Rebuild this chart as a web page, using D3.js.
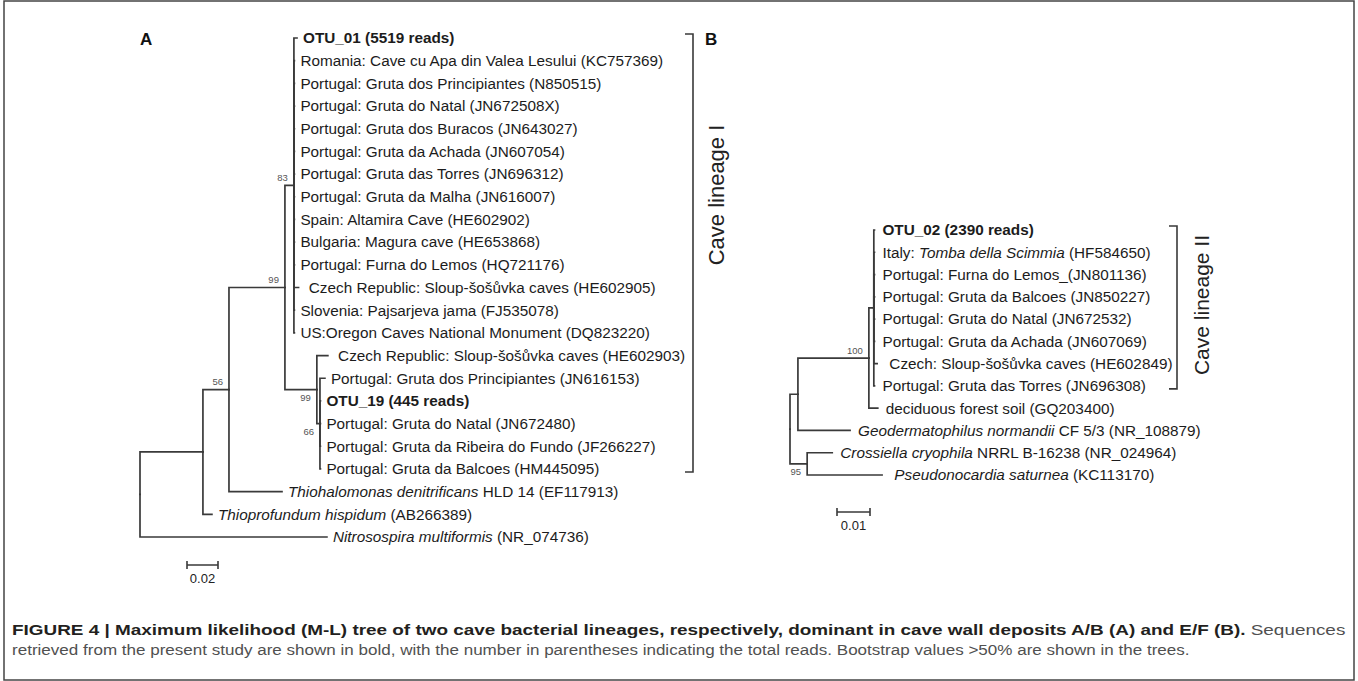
<!DOCTYPE html>
<html>
<head>
<meta charset="utf-8">
<script src="https://cdn.jsdelivr.net/npm/d3@7"></script>
<style>
  body { margin: 0; background: #fff; }
  svg { display: block; font-family: "Liberation Sans", Arial, sans-serif; }
  .branch { fill: none; stroke: #3a3a3a; stroke-width: 1.7; stroke-linecap: square; }
  .tip { font-size: 15.3px; fill: #1c1c1c; white-space: pre; }
  .boot { font-size: 9.5px; fill: #555; }
  .bracket { fill: none; stroke: #3a3a3a; stroke-width: 1.6; }
</style>
</head>
<body>
<svg id="fig" width="1358" height="681"></svg>
<script>
// ---- tree A (Cave lineage I) ----
// tip labels, top to bottom. **bold**, *italic*
const tipsA = [
  "**OTU_01 (5519 reads)**",
  "Romania: Cave cu Apa din Valea Lesului (KC757369)",
  "Portugal: Gruta dos Principiantes (N850515)",
  "Portugal: Gruta do Natal (JN672508X)",
  "Portugal: Gruta dos Buracos (JN643027)",
  "Portugal: Gruta da Achada (JN607054)",
  "Portugal: Gruta das Torres (JN696312)",
  "Portugal: Gruta da Malha (JN616007)",
  "Spain: Altamira Cave (HE602902)",
  "Bulgaria: Magura cave (HE653868)",
  "Portugal: Furna do Lemos (HQ721176)",
  " Czech Republic: Sloup-šošůvka caves (HE602905)",
  "Slovenia: Pajsarjeva jama (FJ535078)",
  "US:Oregon Caves National Monument (DQ823220)",
  " Czech Republic: Sloup-šošůvka caves (HE602903)",
  "Portugal: Gruta dos Principiantes (JN616153)",
  "**OTU_19 (445 reads)**",
  "Portugal: Gruta do Natal (JN672480)",
  "Portugal: Gruta da Ribeira do Fundo (JF266227)",
  "Portugal: Gruta da Balcoes (HM445095)",
  "*Thiohalomonas denitrificans* HLD 14 (EF117913)",
  "*Thioprofundum hispidum* (AB266389)",
  "*Nitrosospira multiformis* (NR_074736)"
];
// [node, parent, branch length]  (tN = tip N)
const edgesA = [
  ["root", null, 0],
  ["n1", "root", 0.0406],
  ["n56", "n1", 0.0168],
  ["n99a", "n56", 0.0361],
  ["n83", "n99a", 0.0058],
  ["t0", "n83", 0.0020],
  ["t1", "n83", 0.0003],
  ["t2", "n83", 0.0003],
  ["t3", "n83", 0.0003],
  ["t4", "n83", 0.0003],
  ["t5", "n83", 0.0003],
  ["t6", "n83", 0.0003],
  ["t7", "n83", 0.0003],
  ["t8", "n83", 0.0003],
  ["t9", "n83", 0.0003],
  ["t10", "n83", 0.0003],
  ["t11", "n83", 0.0030],
  ["t12", "n83", 0.0003],
  ["t13", "n83", 0.0003],
  ["n99b", "n99a", 0.0206],
  ["t14", "n99b", 0.0071],
  ["n66", "n99b", 0.0020],
  ["t15", "n66", 0.0032],
  ["t16", "n66", 0.0003],
  ["t17", "n66", 0.0003],
  ["t18", "n66", 0.0003],
  ["t19", "n66", 0.0003],
  ["t20", "n56", 0.0342],
  ["t21", "n1", 0.0058],
  ["t22", "root", 0.1206]
];
const bootA = [["n83", 83], ["n99a", 99], ["n56", 56], ["n99b", 99], ["n66", 66]];
const cladeA = ["Cave lineage I", 0, 19];
const scaleBarA = 0.02;

// ---- tree B (Cave lineage II) ----
const tipsB = [
  "**OTU_02 (2390 reads)**",
  "Italy: *Tomba della Scimmia* (HF584650)",
  "Portugal: Furna do Lemos_(JN801136)",
  "Portugal: Gruta da Balcoes (JN850227)",
  "Portugal: Gruta do Natal (JN672532)",
  "Portugal: Gruta da Achada (JN607069)",
  " Czech: Sloup-šošůvka caves (HE602849)",
  "Portugal: Gruta das Torres (JN696308)",
  "deciduous forest soil (GQ203400)",
  "*Geodermatophilus normandii* CF 5/3 (NR_108879)",
  "*Crossiella cryophila* NRRL B-16238 (NR_024964)",
  " *Pseudonocardia saturnea* (KC113170)"
];
const edgesB = [
  ["root", null, 0],
  ["g", "root", 0.0024],
  ["n100", "g", 0.0215],
  ["p", "n100", 0.0015],
  ["t0", "p", 0.0002],
  ["t1", "p", 0.0002],
  ["t2", "p", 0.0002],
  ["t3", "p", 0.0002],
  ["t4", "p", 0.0002],
  ["t5", "p", 0.0002],
  ["t6", "p", 0.0010],
  ["t7", "p", 0.0002],
  ["t8", "n100", 0.0027],
  ["t9", "g", 0.0158],
  ["n95", "root", 0.0052],
  ["t10", "n95", 0.0076],
  ["t11", "n95", 0.0227]
];
const bootB = [["n100", 100], ["n95", 95]];
const cladeB = ["Cave lineage II", 0, 7];
const scaleBarB = 0.01;

// ---- caption ----
const captionBold = "FIGURE 4 | Maximum likelihood (M-L) tree of two cave bacterial lineages, respectively, dominant in cave wall deposits A/B (A) and E/F (B).";
const captionRest = " Sequences";
const captionLine2 = "retrieved from the present study are shown in bold, with the number in parentheses indicating the total reads. Bootstrap values >50% are shown in the trees.";

const svg = d3.select("#fig");

// frame
svg.append("rect")
  .attr("x", 4).attr("y", 1).attr("width", 1350).attr("height", 679)
  .attr("fill", "none").attr("stroke", "#444").attr("stroke-width", 1.5);

function addLabel(sel, s) {
  s.split(/(\*\*[^*]+\*\*|\*[^*]+\*)/).filter(p => p).forEach(p => {
    const t = sel.append("tspan");
    if (p.startsWith("**")) t.attr("font-weight", "bold").text(p.slice(2, -2));
    else if (p.startsWith("*")) t.attr("font-style", "italic").text(p.slice(1, -1));
    else t.text(p);
  });
}

function drawTree(edges, tips, boots, xs, ys, gap) {
  const g = svg.append("g");
  const root = d3.stratify().id(d => d[0]).parentId(d => d[1])(edges);

  // x from summed branch lengths, y from tip order
  root.eachBefore(n => { n.len = n.parent ? n.parent.len + n.data[2] : 0; });
  root.eachAfter(n => {
    if (!n.children) n.row = +n.id.slice(1);
    else n.row = (n.children[0].row + n.children[n.children.length - 1].row) / 2;
  });

  g.selectAll("path.branch")
    .data(root.links())
    .join("path")
    .attr("class", "branch")
    .attr("d", l => `M${xs(l.source.len)},${ys(l.source.row)}V${ys(l.target.row)}H${xs(l.target.len)}`);

  g.selectAll("text.tip")
    .data(root.leaves())
    .join("text")
    .attr("class", "tip")
    .attr("xml:space", "preserve")
    .attr("x", d => xs(d.len) + gap)
    .attr("y", d => ys(d.row))
    .attr("dy", "0.35em")
    .each(function(d) { addLabel(d3.select(this), tips[d.row]); });

  const byId = new Map(root.descendants().map(n => [n.id, n]));
  g.selectAll("text.boot")
    .data(boots)
    .join("text")
    .attr("class", "boot")
    .attr("text-anchor", "end")
    .attr("x", d => xs(byId.get(d[0]).len) - 6)
    .attr("y", d => {
      const n = byId.get(d[0]);
      const first = n.parent.children[0] === n;
      return ys(n.row) + (first ? -4.5 : 11.5);
    })
    .text(d => d[1]);
  return g;
}

function scaleBar(xs, value, x0, y0) {
  const w = xs(value) - xs(0);
  svg.append("path")
    .attr("class", "bracket")
    .attr("stroke-width", 1.7)
    .attr("d", `M${x0},${y0}H${x0 + w}M${x0},${y0 - 4}V${y0 + 4}M${x0 + w},${y0 - 4}V${y0 + 4}`);
  svg.append("text")
    .attr("x", x0 + w / 2).attr("y", y0 + 18)
    .attr("text-anchor", "middle")
    .attr("font-size", 13).attr("fill", "#222")
    .text(value);
}

function bracket(clade, ys, x, tx, ty, size) {
  const y1 = ys(clade[1]) - 4, y2 = ys(clade[2]) + 3;
  svg.append("path")
    .attr("class", "bracket")
    .attr("d", `M${x - 8},${y1}H${x}V${y2}H${x - 8}`);
  svg.append("text")
    .attr("transform", `translate(${tx},${ty}) rotate(-90)`)
    .attr("text-anchor", "middle")
    .attr("font-size", size).attr("fill", "#222")
    .text(clade[0]);
}

// tree A
const xA = d3.scaleLinear().domain([0, 0.13]).range([140, 140 + 0.13 * 1550]);
const yA = d3.scaleLinear().domain([0, tipsA.length - 1]).range([38, 537]);
drawTree(edgesA, tipsA, bootA, xA, yA, 6);
scaleBar(xA, scaleBarA, 187, 565);
bracket(cladeA, yA, 693, 724, 195, 22);

// tree B
const xB = d3.scaleLinear().domain([0, 0.03]).range([790, 790 + 0.03 * 3300]);
const yB = d3.scaleLinear().domain([0, tipsB.length - 1]).range([230, 475]);
drawTree(edgesB, tipsB, bootB, xB, yB, 8);
scaleBar(xB, scaleBarB, 837, 512);
bracket(cladeB, yB, 1177, 1209, 305, 21);

// panel letters
svg.append("text").attr("x", 140).attr("y", 45)
  .attr("font-size", 17).attr("font-weight", "bold").attr("fill", "#111").text("A");
svg.append("text").attr("x", 705).attr("y", 45)
  .attr("font-size", 17).attr("font-weight", "bold").attr("fill", "#111").text("B");

// caption, stretched to the measured line widths
function captionLine(y, x1, x2, parts) {
  const t = svg.append("text").attr("font-size", 15);
  parts.forEach(p => t.append("tspan")
    .attr("font-weight", p[1] ? "bold" : "normal")
    .attr("fill", p[1] ? "#231f20" : "#505050")
    .text(p[0]));
  const w = t.node().getComputedTextLength();
  t.attr("transform", `translate(${x1},${y}) scale(${(x2 - x1) / w},1)`);
}
captionLine(635, 12, 1346, [[captionBold, true], [captionRest, false]]);
captionLine(655, 12, 1190, [[captionLine2, false]]);
</script>
</body>
</html>
